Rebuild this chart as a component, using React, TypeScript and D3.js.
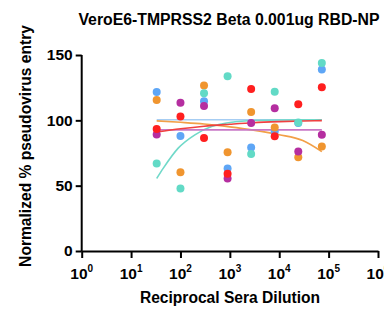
import * as d3 from "d3";
import { useEffect, useRef } from "react";

const dilutions = [33, 100, 300, 900, 2700, 8100, 24300, 72900];

const blueVals = [121.6, 88.1, 114.7, 63.1, 79.2, 91.4, 98, 138.9];
const orangeVals = [115.5, 60.3, 126.7, 75.6, 106.3, 94.5, 71.8, 79.9];
const tealVals = [66.9, 47.8, 120.8, 133.8, 74.3, 121.8, 98.3, 143.8];
const purpleVals = [89.1, 113.4, 110.9, 55.4, 97.9, 109.3, 76.1, 88.9];
const redVals = [93.3, 102.9, 86.4, 59.2, 123.9, 87.9, 112.4, 125.4];

// fitted curves
const fitX = [33, 100, 300, 1000, 3000, 10000, 30000, 72900];
const blueFit = [100.4, 100.4, 100.4, 100.4, 100.4, 100.4, 100.4, 100.4];
const orangeFit = [99.6, 98.5, 97.2, 95, 92.5, 89, 84.5, 76];
const redFit = [91, 93.5, 95.5, 97, 98.2, 99, 99.5, 99.8];
const purpleFit = [92.7, 92.7, 92.7, 92.7, 92.7, 92.7, 92.7, 92.7];
const tealFitX = [33, 45, 90, 196, 428, 2000, 10000, 72900];
const tealFit = [55.5, 63.4, 78.7, 88.9, 95.3, 99.5, 100.2, 100.4];

const yTicks = [0, 50, 100, 150];
const xTickExps = [0, 1, 2, 3, 4, 5, 6];

const series = [
  { name: "blue", vals: blueVals, fx: fitX, fit: blueFit, dot: "#5ea6f6", line: "#a6cdf3" },
  { name: "orange", vals: orangeVals, fx: fitX, fit: orangeFit, dot: "#f0952f", line: "#f2a048" },
  { name: "teal", vals: tealVals, fx: tealFitX, fit: tealFit, dot: "#62dac6", line: "#70d9c9" },
  { name: "purple", vals: purpleVals, fx: fitX, fit: purpleFit, dot: "#b52ea0", line: "#c977c6" },
  { name: "red", vals: redVals, fx: fitX, fit: redFit, dot: "#ff1f1f", line: "#f04040" },
];

const font = "'Liberation Sans', Arial, sans-serif";

export default function App() {
  const ref = useRef<SVGSVGElement>(null);

  useEffect(() => {
    if (!ref.current) return;
    const svg = d3.select(ref.current);
    svg.selectAll("*").remove();

    const x = d3.scaleLog().domain([1, 1e6]).range([81.7, 378]);
    const y = d3.scaleLinear().domain([0, 150]).range([251, 55]);

    // title
    svg.append("text")
      .attr("x", 229).attr("y", 25)
      .attr("text-anchor", "middle")
      .attr("font-family", font).attr("font-weight", "bold").attr("font-size", 15.8)
      .text("VeroE6-TMPRSS2 Beta 0.001ug RBD-NP");

    // fit lines
    const line = d3.line<[number, number]>()
      .x(d => x(d[0]))
      .y(d => y(d[1]))
      .curve(d3.curveMonotoneX);

    series.forEach(s => {
      svg.append("path")
        .datum(s.fx.map((v, i) => [v, s.fit[i]] as [number, number]))
        .attr("fill", "none")
        .attr("stroke", s.line)
        .attr("stroke-width", 1.6)
        .attr("d", line);
    });

    // points
    series.forEach(s => {
      svg.append("g").selectAll("circle")
        .data(s.vals)
        .enter()
        .append("circle")
        .attr("cx", (_d, i) => x(dilutions[i]))
        .attr("cy", d => y(d))
        .attr("r", 4)
        .attr("fill", s.dot);
    });

    // Y Axis
    const gy = svg.append("g")
      .attr("transform", `translate(${x(1)},0)`)
      .call(d3.axisLeft(y).tickValues(yTicks).tickSize(6).tickPadding(3).tickSizeOuter(0));
    gy.select(".domain").attr("stroke-width", 2).attr("d", `M0,${y(150)}V${y(0)}`);
    gy.selectAll(".tick line").attr("stroke-width", 2);
    gy.selectAll(".tick text")
      .attr("font-family", font).attr("font-weight", "bold").attr("font-size", 15.5).attr("fill", "#000");

    // X Axis
    const gx = svg.append("g")
      .attr("transform", `translate(0,${y(0)})`)
      .call(d3.axisBottom(x).tickValues(xTickExps.map(e => Math.pow(10, e))).tickSize(7).tickSizeOuter(0).tickFormat(() => ""));
    gx.select(".domain").attr("stroke-width", 2);
    gx.selectAll(".tick line").attr("stroke-width", 2);

    const lbl = svg.append("g")
      .attr("font-family", font).attr("font-weight", "bold");
    xTickExps.forEach(e => {
      const t = lbl.append("text")
        .attr("x", x(Math.pow(10, e)))
        .attr("y", 279)
        .attr("text-anchor", "middle");
      t.append("tspan").attr("font-size", 15.5).text("10");
      t.append("tspan").attr("font-size", 10).attr("dy", -7).text(String(e));
    });

    // axis titles
    svg.append("text")
      .attr("x", 230).attr("y", 303)
      .attr("text-anchor", "middle")
      .attr("font-family", font).attr("font-weight", "bold").attr("font-size", 15.6)
      .text("Reciprocal Sera Dilution");

    svg.append("text")
      .attr("transform", `translate(31,146) rotate(-90)`)
      .attr("text-anchor", "middle")
      .attr("font-family", font).attr("font-weight", "bold").attr("font-size", 15.6)
      .text("Normalized % pseudovirus entry");
  }, []);

  return (
    <svg
      ref={ref}
      width={384}
      height={310}
      style={{ position: "absolute", left: 0, top: 0, background: "#fff" }}
    />
  );
}
